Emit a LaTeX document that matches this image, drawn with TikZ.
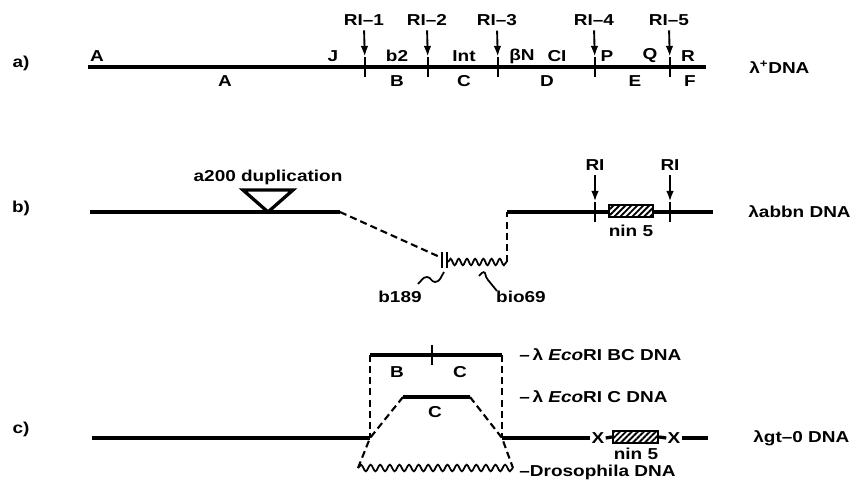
\documentclass[tikz,border=0pt]{standalone}
\usepackage{fontspec}
\setmainfont[FakeStretch=1.2]{Liberation Sans}
\usetikzlibrary{arrows.meta,decorations.pathmorphing,patterns.meta}

\tikzset{
    dna/.style={line width=2.8pt},
    tickmark/.style={line width=1.9pt},
    cut/.style={-{Latex[length=9pt,width=6.5pt]}, line width=1.6pt, shorten >=9pt, shorten <=3pt},
    dashline/.style={line width=1.8pt, dash pattern=on 6pt off 3.5pt},
    wavy/.style={line width=1.5pt, decorate, decoration={snake, segment length=#1, amplitude=2.8pt}},
    wavy/.default=8pt,
    lbl/.style={font=\fontsize{13.5}{15}\selectfont\bfseries, inner sep=1pt},
    ninbox/.style={draw, line width=1.9pt, minimum width=1.3cm, minimum height=0.36cm, inner sep=0pt,
        preaction={fill=white}, pattern={Lines[angle=45, distance=3.6pt, line width=1.6pt]}},
}

\begin{document}
\begin{tikzpicture}[x=0.03cm, y=-0.03cm]
    \useasboundingbox (0,0) rectangle (859,485);

    % a) lambda+ DNA
    \node[lbl] (pa) at (21,63) {a)};
    \coordinate (a0) at (88,67);
    \coordinate (a1) at (706,67);
    \draw[dna] (a0) -- (a1);
    \foreach \n/\x in {1/365, 2/428, 3/498, 4/595, 5/670} {
        \coordinate (t\n) at (\x,67);
        \draw[tickmark] (\x,57) -- (\x,77);
        \node[lbl] (ri\n) at (\x-1,20) {RI–\n};
        \draw[cut] (ri\n.south) -- (t\n);
    }
    \foreach \t/\x in {A/97, J/333, b2/397, Int/464, βN/522, CI/557, P/607, Q/650, R/688}
        \node[lbl] at (\x,56) {\t};
    \foreach \t/\x in {A/225, B/397, C/464, D/547, E/635, F/690}
        \node[lbl] at (\x,81) {\t};
    \node[lbl, anchor=west] (lplus) at (748,67) {λ\textsuperscript{+}DNA};

    % b) lambda abbn DNA
    \node[lbl] (pb) at (21,208) {b)};
    \coordinate (b0) at (90,212);
    \coordinate (b1) at (340,212);
    \coordinate (b2) at (442,258);
    \coordinate (b3) at (448,262);
    \coordinate (b4) at (507,262);
    \coordinate (b5) at (507,212);
    \coordinate (b6) at (713,212);
    \draw[dna] (b0) -- (b1);
    \draw[dna, line join=miter] (243,190) -- (293,190) -- (268,212) -- cycle;
    \node[lbl] (dup) at (268,177) {a200 duplication};
    \draw[dashline] (b1) -- (b2);
    \draw[tickmark] (442,252) -- (442,268);
    \draw[tickmark] (447,252) -- (447,268);
    \draw[wavy=7pt] (b3) -- (b4);
    \draw[dashline] (b4) -- (b5);
    \draw[dna] (b5) -- (b6);
    \foreach \n/\x in {1/595, 2/670} {
        \coordinate (s\n) at (\x,212);
        \draw[tickmark] (\x,202) -- (\x,222);
        \node[lbl] (rb\n) at (\x,165) {RI};
        \draw[cut] (rb\n.south) -- (s\n);
    }
    \node[ninbox] (ninb) at (631,211) {};
    \node[lbl] at (631,231) {nin 5};
    \node[lbl, anchor=west] (labbn) at (747,212) {λabbn DNA};
    \node[lbl] (b189) at (400,297) {b189};
    \node[lbl] (bio69) at (521,297) {bio69};
    \draw[line width=1.5pt] (418,284) to[out=40,in=180] (427,277) to[out=0,in=180] (435,282) to[out=0,in=235] (444,272);
    \draw[line width=1.5pt] (479,276) to[out=60,in=120] (485,273) to[out=-60,in=150] (488,280) -- (497,291);

    % c) lambda gt-0 DNA
    \node[lbl] (pc) at (21,429) {c)};
    \coordinate (c0) at (92,438);
    \coordinate (c1) at (370,438);
    \coordinate (c2) at (502,438);
    \coordinate (c3) at (708,438);
    \draw[dna] (c0) -- (c1);
    \node[lbl] (x1) at (598,438) {X};
    \node[ninbox, minimum width=1.35cm] (ninc) at (635.5,437) {};
    \node[lbl] (x2) at (674,438) {X};
    \draw[dna] (c2) -- (x1.west);
    \draw[dna] (x1.east) -- (ninc.west);
    \draw[dna] (ninc.east) -- (x2.west);
    \draw[dna] (x2.east) -- (c3);
    \node[lbl] at (636,454) {nin 5};
    \node[lbl, anchor=west] (lgt) at (752,438) {λgt–0 DNA};
    % inserts
    \coordinate (bc0) at (370,355);
    \coordinate (bc1) at (502,355);
    \draw[dna] (bc0) -- (bc1);
    \draw[tickmark] (432,345) -- (432,365);
    \node[lbl] at (397,372) {B};
    \node[lbl] at (460,372) {C};
    \draw[dashline] (bc0) -- (c1);
    \draw[dashline] (bc1) -- (c2);
    \coordinate (cc0) at (403,397);
    \coordinate (cc1) at (470,397);
    \draw[dna] (cc0) -- (cc1);
    \node[lbl] at (435,412) {C};
    \coordinate (d0) at (358,468);
    \coordinate (d1) at (513,468);
    \draw[dashline] (cc0) -- (c1) -- (d0);
    \draw[dashline] (cc1) -- (c2) -- (d1);
    \draw[wavy=8.2pt] (d0) -- (d1);
    \node[lbl, anchor=west] at (518,355) {–\,λ \textit{Eco}RI BC DNA};
    \node[lbl, anchor=west] at (518,397) {–\,λ \textit{Eco}RI C DNA};
    \node[lbl, anchor=west] at (518,472) {–Drosophila DNA};
\end{tikzpicture}
\end{document}
